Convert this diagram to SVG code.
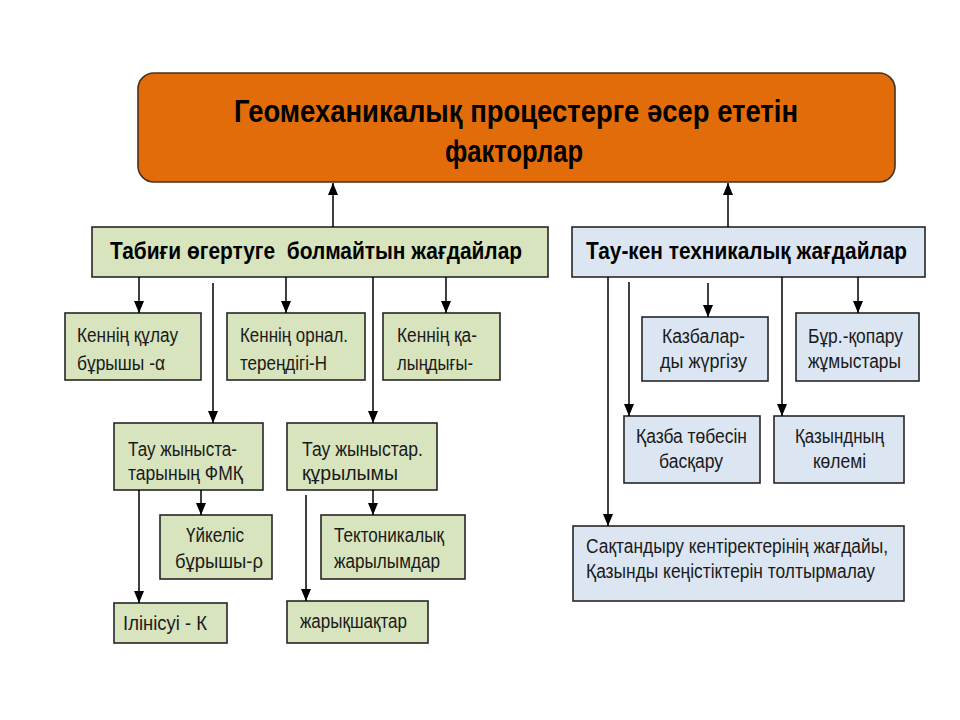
<svg xmlns="http://www.w3.org/2000/svg" width="960" height="720" viewBox="0 0 960 720">
<style>
.g{fill:#D7E4BD;stroke:#262626;stroke-width:1.6}
.b{fill:#DCE6F2;stroke:#262626;stroke-width:1.6}
.t{font-family:"Liberation Sans",Arial,sans-serif;font-size:20px;fill:#1a1a1a}
.h{font-family:"Liberation Sans",Arial,sans-serif;font-size:23px;font-weight:bold;fill:#000}
.ttl{font-family:"Liberation Sans",sans-serif;font-size:32px;font-weight:bold;fill:#000}
.cn line{stroke:#000;stroke-width:1.5;fill:none}
</style>
<defs>
<marker id="ah" markerUnits="userSpaceOnUse" markerWidth="12" markerHeight="10" refX="12" refY="5" orient="auto" viewBox="0 0 12 10">
<path d="M0,0 L12,5 L0,10 Z" fill="#000"/>
</marker>
</defs>
<rect width="960" height="720" fill="#fff"/>

<g id="top">
<rect x="138" y="73" width="757" height="109" rx="16" fill="#E36C0A" stroke="#4a3018" stroke-width="1.6"/>
<text class="ttl" x="234" y="122" textLength="564" lengthAdjust="spacingAndGlyphs">Геомеханикалық процестерге әсер ететін</text>
<text class="ttl" x="445" y="162" textLength="138" lengthAdjust="spacingAndGlyphs">факторлар</text>
</g>

<g id="natural">
<rect class="g" x="92" y="227" width="456" height="50"/>
<text class="h" x="110" y="259" textLength="412" lengthAdjust="spacingAndGlyphs">Табиғи өгертуге&#160; болмайтын жағдайлар</text>
</g>
<g id="mining">
<rect class="b" x="572" y="227" width="353" height="50"/>
<text class="h" x="586" y="259" textLength="321" lengthAdjust="spacingAndGlyphs">Тау-кен техникалық жағдайлар</text>
</g>

<g id="n1"><rect class="g" x="65" y="313" width="136" height="67"/>
<text class="t" x="77" y="342" textLength="101" lengthAdjust="spacingAndGlyphs">Кеннің құлау</text><text class="t" x="77" y="370" textLength="88" lengthAdjust="spacingAndGlyphs">бұрышы -α</text></g>
<g id="n2"><rect class="g" x="227" y="313" width="138" height="67"/>
<text class="t" x="240" y="342" textLength="108" lengthAdjust="spacingAndGlyphs">Кеннің орнал.</text><text class="t" x="240" y="370" textLength="87" lengthAdjust="spacingAndGlyphs">тереңдігі-Н</text></g>
<g id="n3"><rect class="g" x="383" y="313" width="117" height="67"/>
<text class="t" x="397" y="342" textLength="80" lengthAdjust="spacingAndGlyphs">Кеннің қа-</text><text class="t" x="397" y="370" textLength="76" lengthAdjust="spacingAndGlyphs">лыңдығы-</text></g>

<g id="n4"><rect class="g" x="114" y="423" width="149" height="67"/>
<text class="t" x="128" y="456" textLength="109" lengthAdjust="spacingAndGlyphs">Тау жыныста-</text><text class="t" x="128" y="480" textLength="115" lengthAdjust="spacingAndGlyphs">тарының ФМҚ</text></g>
<g id="n5"><rect class="g" x="287" y="423" width="150" height="67"/>
<text class="t" x="302" y="456" textLength="121" lengthAdjust="spacingAndGlyphs">Тау жыныстар.</text><text class="t" x="302" y="480" textLength="96" lengthAdjust="spacingAndGlyphs">құрылымы</text></g>

<g id="n6"><rect class="g" x="160" y="515" width="112" height="64"/>
<text class="t" x="186" y="542" textLength="58" lengthAdjust="spacingAndGlyphs">Үйкеліс</text><text class="t" x="175" y="568" textLength="88" lengthAdjust="spacingAndGlyphs">бұрышы-ρ</text></g>
<g id="n7"><rect class="g" x="321" y="515" width="144" height="64"/>
<text class="t" x="334" y="542" textLength="110" lengthAdjust="spacingAndGlyphs">Тектоникалық</text><text class="t" x="334" y="568" textLength="106" lengthAdjust="spacingAndGlyphs">жарылымдар</text></g>

<g id="n8"><rect class="g" x="114" y="603" width="113" height="40"/>
<text class="t" x="123" y="630" textLength="84" lengthAdjust="spacingAndGlyphs">Ілінісуі - К</text></g>
<g id="n9"><rect class="g" x="287" y="601" width="141" height="42"/>
<text class="t" x="300" y="628" textLength="107" lengthAdjust="spacingAndGlyphs">жарықшақтар</text></g>

<g id="m1"><rect class="b" x="642" y="317" width="126" height="64"/>
<text class="t" x="662" y="343" textLength="83" lengthAdjust="spacingAndGlyphs">Казбалар-</text><text class="t" x="660" y="368" textLength="87" lengthAdjust="spacingAndGlyphs">ды жүргізу</text></g>
<g id="m2"><rect class="b" x="796" y="313" width="123" height="68"/>
<text class="t" x="808" y="343" textLength="95" lengthAdjust="spacingAndGlyphs">Бұр.-қопару</text><text class="t" x="808" y="368" textLength="93" lengthAdjust="spacingAndGlyphs">жұмыстары</text></g>
<g id="m3"><rect class="b" x="624" y="416" width="136" height="67"/>
<text class="t" x="636" y="443" textLength="111" lengthAdjust="spacingAndGlyphs">Қазба төбесін</text><text class="t" x="659" y="468" textLength="64" lengthAdjust="spacingAndGlyphs">басқару</text></g>
<g id="m4"><rect class="b" x="774" y="416" width="130" height="67"/>
<text class="t" x="795" y="443" textLength="89" lengthAdjust="spacingAndGlyphs">Қазындның</text><text class="t" x="813" y="468" textLength="53" lengthAdjust="spacingAndGlyphs">көлемі</text></g>
<g id="m5"><rect class="b" x="573" y="526" width="331" height="75"/>
<text class="t" x="586" y="553" textLength="302" lengthAdjust="spacingAndGlyphs">Сақтандыру кентіректерінің жағдайы,</text><text class="t" x="586" y="578" textLength="289" lengthAdjust="spacingAndGlyphs">Қазынды кеңістіктерін толтырмалау</text></g>

<g id="connectors" class="cn">
<line x1="333" y1="227" x2="333" y2="183" marker-end="url(#ah)"/>
<line x1="728" y1="227" x2="728" y2="183" marker-end="url(#ah)"/>
<line x1="139" y1="277" x2="139" y2="313" marker-end="url(#ah)"/>
<line x1="286" y1="277" x2="286" y2="313" marker-end="url(#ah)"/>
<line x1="446" y1="277" x2="446" y2="313" marker-end="url(#ah)"/>
<line x1="213" y1="283" x2="213" y2="423" marker-end="url(#ah)"/>
<line x1="373" y1="277" x2="373" y2="423" marker-end="url(#ah)"/>
<line x1="201" y1="490" x2="201" y2="515" marker-end="url(#ah)"/>
<line x1="373" y1="490" x2="373" y2="515" marker-end="url(#ah)"/>
<line x1="139" y1="490" x2="139" y2="603" marker-end="url(#ah)"/>
<line x1="306" y1="495" x2="306" y2="601" marker-end="url(#ah)"/>
<line x1="608" y1="277" x2="608" y2="526" marker-end="url(#ah)"/>
<line x1="629" y1="282" x2="629" y2="416" marker-end="url(#ah)"/>
<line x1="708" y1="283" x2="708" y2="317" marker-end="url(#ah)"/>
<line x1="782" y1="277" x2="782" y2="416" marker-end="url(#ah)"/>
<line x1="858" y1="277" x2="858" y2="313" marker-end="url(#ah)"/>
</g>
</svg>
